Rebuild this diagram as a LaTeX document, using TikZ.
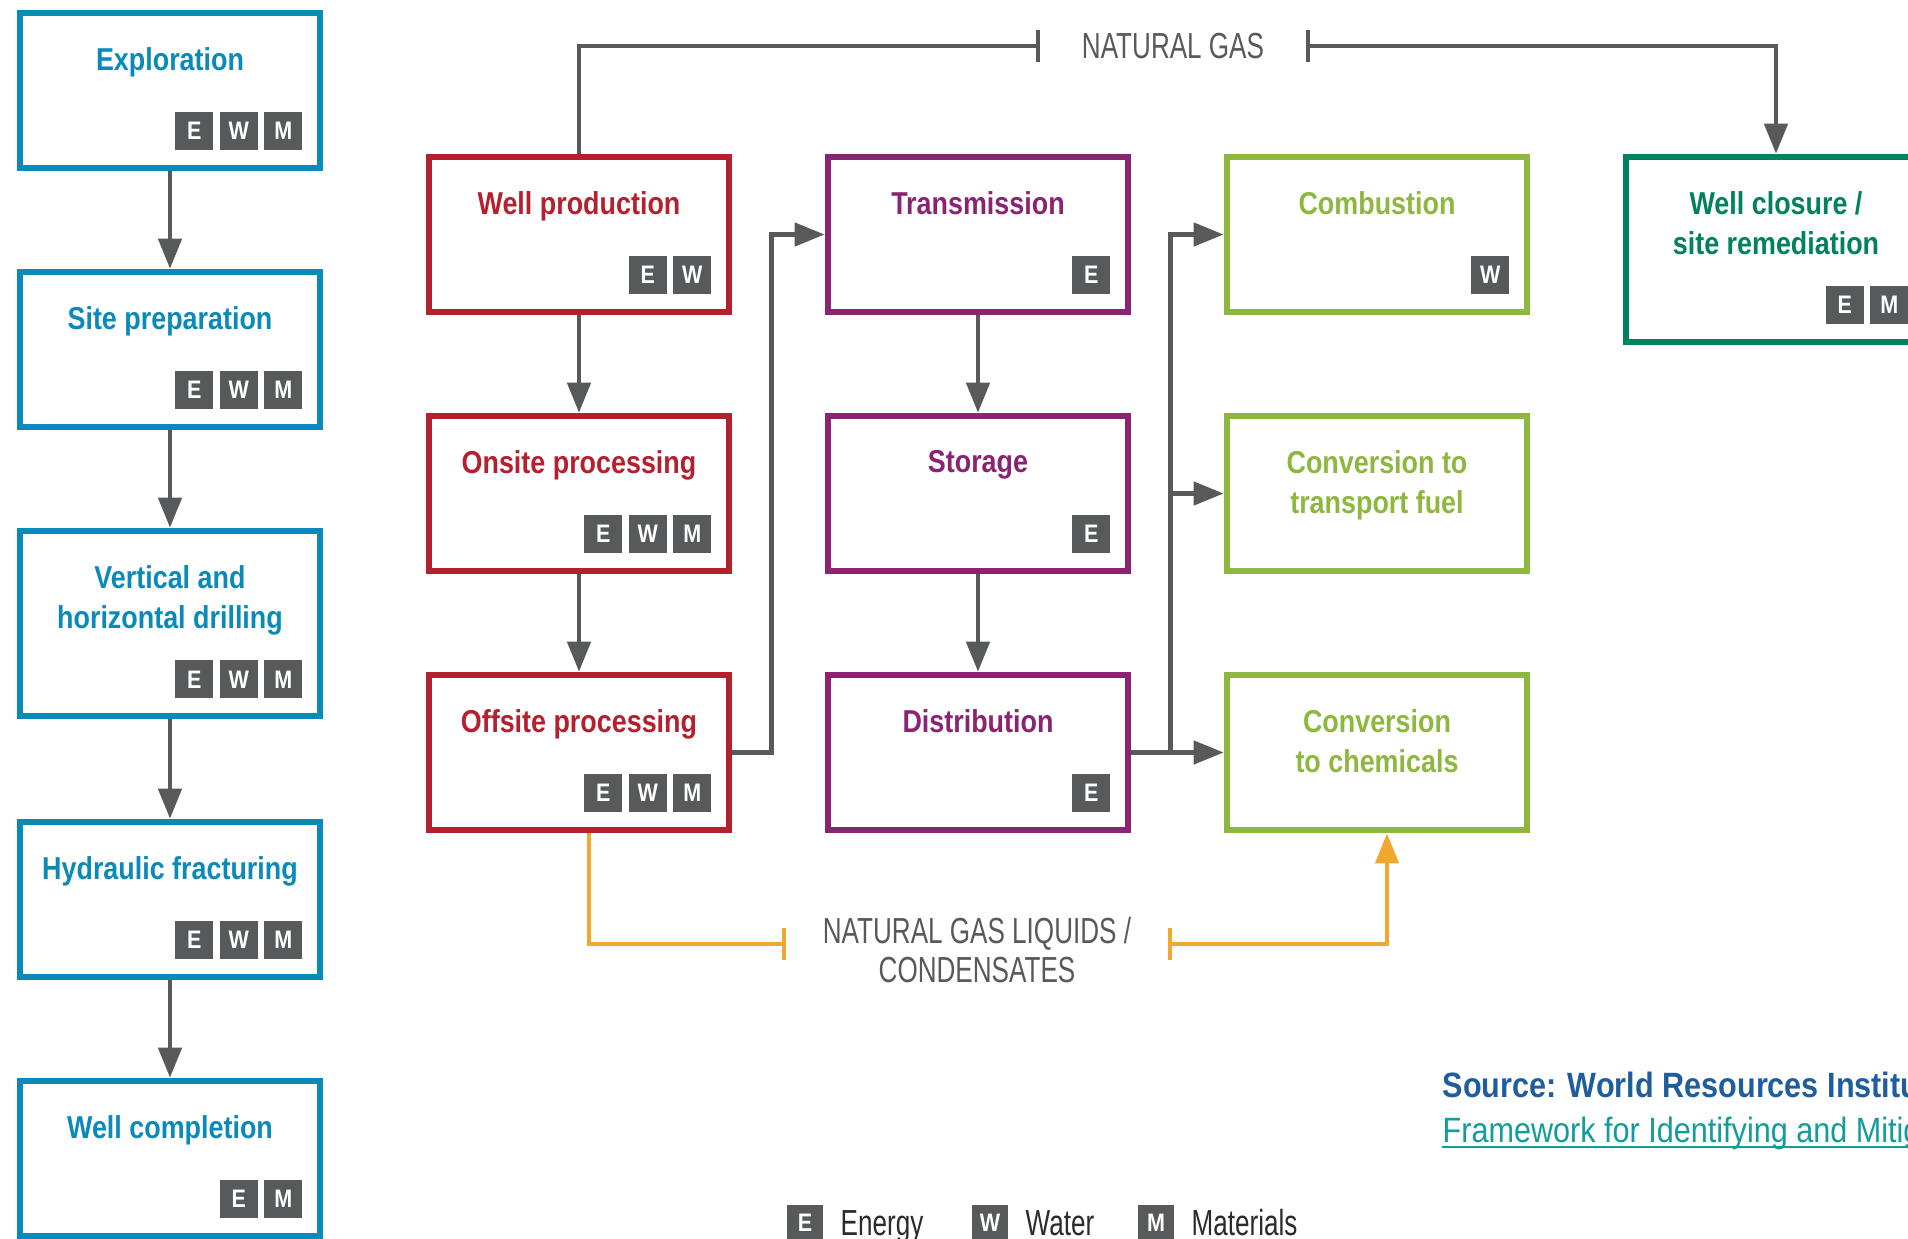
\documentclass[tikz,border=0pt]{standalone}
\usepackage{fontspec}
\setmainfont{Liberation Sans}
\newfontfamily\headfont[FakeStretch=0.85]{Liberation Sans}
\newfontfamily\thinfont[FakeStretch=0.72]{Liberation Sans}
\newfontfamily\srcfont[FakeStretch=0.87]{Liberation Sans}
\usetikzlibrary{arrows.meta,positioning}

\definecolor{stageblue}{HTML}{0A8AB8}
\definecolor{stagered}{HTML}{B5202E}
\definecolor{stagepurple}{HTML}{8A2372}
\definecolor{stagelime}{HTML}{8DB73F}
\definecolor{stagegreen}{HTML}{00825E}
\definecolor{arrowgray}{HTML}{58595B}
\definecolor{badgegray}{HTML}{58595B}
\definecolor{labelgray}{HTML}{58595B}
\definecolor{legendtext}{HTML}{2B2B2B}
\definecolor{liquidorange}{HTML}{F0A830}
\definecolor{srcblue}{HTML}{1F5E9C}
\definecolor{linkteal}{HTML}{129C9A}

\tikzset{
  stage/.style={draw=#1, line width=0.065cm, fill=white, minimum width=3cm,
    minimum height=1.55cm, inner sep=0pt},
  head/.style={text=#1, font=\headfont\bfseries\fontsize{9}{11.4}\selectfont,
    align=center, anchor=north, inner sep=0pt},
  badge/.style={fill=badgegray, text=white, minimum size=0.38cm, inner sep=0pt,
    outer sep=0pt, font=\headfont\bfseries\fontsize{7.2}{8}\selectfont},
  line/.style={draw=arrowgray, line width=0.045cm},
  flow/.style={line, -{Triangle[length=0.3cm,width=0.23cm]}},
  liquid/.style={draw=liquidorange, line width=0.045cm},
  gaslabel/.style={text=labelgray, font=\thinfont\fontsize{10.3}{11.1}\selectfont,
    align=center, inner ysep=0pt, outer sep=0pt},
  legend/.style={text=legendtext, font=\thinfont\fontsize{10.3}{11.1}\selectfont,
    inner sep=0pt},
}

% badges in the lower right corner of a stage, listed from the right
\newcommand{\ewm}[2]{%
  \foreach \lt [count=\n from 0] in {#2}
    \node[badge, anchor=south east] (#1\lt)
      at ([shift={(-0.21cm-\n*0.445cm,0.21cm)}]#1.south east) {\lt};}

\begin{document}
\begin{tikzpicture}[x=0.01cm, y=-0.01cm]
\useasboundingbox (0,0) rectangle (1908,1239);
\clip (0,0) rectangle (1908,1239);
\fill[white] (0,0) rectangle (1908,1239);

% stages: name/x/y/colour/height
\foreach \nm/\x/\y/\cl/\bh in {ex/170/90.5/stageblue/1.55, sp/170/349.5/stageblue/1.55,
    vd/170/623.5/stageblue/1.85, hf/170/899.5/stageblue/1.55, wc/170/1158.5/stageblue/1.55,
    wp/579/234.5/stagered/1.55, on/579/493.5/stagered/1.55, op/579/752.5/stagered/1.55,
    tr/978/234.5/stagepurple/1.55, st/978/493.5/stagepurple/1.55, di/978/752.5/stagepurple/1.55,
    cb/1377/234.5/stagelime/1.55, cf/1377/493.5/stagelime/1.55, cc/1377/752.5/stagelime/1.55,
    wcl/1776/249.5/stagegreen/1.85}
  \node[stage=\cl, minimum height=\bh cm] (\nm) at (\x,\y) {};

\foreach \nm/\cl/\ttl in {ex/stageblue/Exploration, sp/stageblue/Site preparation,
    vd/stageblue/{Vertical and\\horizontal drilling}, hf/stageblue/Hydraulic fracturing,
    wc/stageblue/Well completion, wp/stagered/Well production,
    on/stagered/Onsite processing, op/stagered/Offsite processing,
    tr/stagepurple/Transmission, st/stagepurple/Storage, di/stagepurple/Distribution,
    cb/stagelime/Combustion, cf/stagelime/{Conversion to\\transport fuel},
    cc/stagelime/{Conversion\\to chemicals}, wcl/stagegreen/{Well closure /\\site remediation}}
  \node[head=\cl] (\nm-t) at ([yshift=-0.37cm]\nm.north) {\ttl};

\ewm{ex}{M,W,E} \ewm{sp}{M,W,E} \ewm{vd}{M,W,E} \ewm{hf}{M,W,E} \ewm{wc}{M,E}
\ewm{wp}{W,E} \ewm{on}{M,W,E} \ewm{op}{M,W,E}
\ewm{tr}{E} \ewm{st}{E} \ewm{di}{E}
\ewm{cb}{W} \ewm{wcl}{M,E}

% main flow
\foreach \a/\b in {ex/sp, sp/vd, vd/hf, hf/wc, wp/on, on/op, tr/st, st/di}
  \draw[flow] (\a.south) -- (\b.north);

\coordinate (oj) at ([xshift=0.39cm]op.east);
\draw[flow] (op.east) -- (oj) |- (tr.west);
\coordinate (dj) at ([xshift=0.39cm]di.east);
\draw[flow] (di.east) -- (cc.west);
\draw[flow] (dj) |- (cb.west);
\draw[flow] (dj) |- (cf.west);

% natural gas to well closure
\node[gaslabel, inner xsep=0.415cm] (ng) at (1173,46) {NATURAL GAS};
\draw[line, -{Bar[width=0.32cm]}] (wp.north) |- (ng.west);
\draw[line, {Bar[width=0.32cm]}-{Triangle[length=0.3cm,width=0.23cm]}] (ng.east) -| (wcl.north);

% liquids to chemicals
\node[gaslabel, inner xsep=0.365cm] (ngl) at (977,950) {NATURAL GAS LIQUIDS /\\CONDENSATES};
\draw[liquid, -{Bar[width=0.32cm]}] ([xshift=0.1cm]op.south) |- ([yshift=0.06cm]ngl.west);
\draw[liquid, {Bar[width=0.32cm]}-{Triangle[length=0.3cm,width=0.23cm]}]
  ([yshift=0.06cm]ngl.east) -| ([xshift=0.1cm]cc.south);

% legend
\foreach \lt/\x/\txt in {E/787/Energy, W/972/Water, M/1138/Materials} {
  \node[badge, minimum size=0.36cm, anchor=north west] (lg\lt) at (\x,1205) {\lt};
  \node[legend, anchor=base west] (lg\lt-t) at ([shift={(0.17cm,-0.12cm)}]lg\lt.east) {\txt};
}

% source
\node[anchor=base west, inner sep=0pt, text=srcblue, font=\srcfont\bfseries\fontsize{10}{12}\selectfont]
  (src) at (1442,1097) {Source: World Resources Institu};
\node[anchor=base west, inner sep=0pt, text=linkteal, font=\srcfont\fontsize{10}{12}\selectfont]
  (lnk) at (1442,1142) {Framework for Identifying and Mitig};
\draw[linkteal, line width=0.02cm] ([yshift=-0.05cm]lnk.base west) -- ([yshift=-0.05cm]lnk.base east);
\end{tikzpicture}
\end{document}
